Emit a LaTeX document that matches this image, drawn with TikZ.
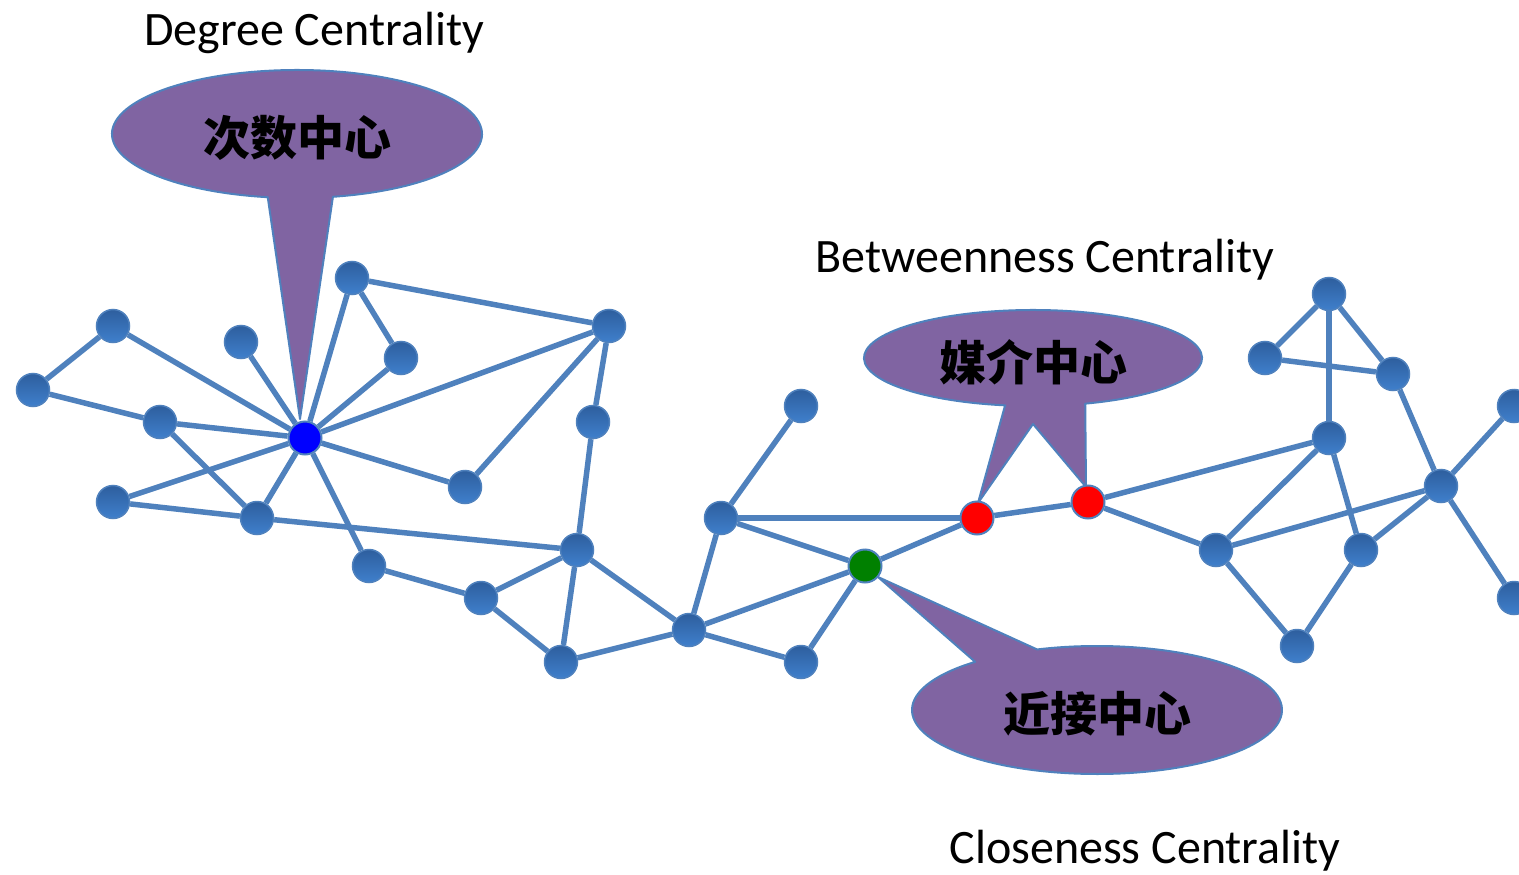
\documentclass[tikz,border=0pt]{standalone}
\usepackage{fontspec}
\setmainfont{Carlito}
\newfontfamily\cjk{Noto Sans CJK SC}
\definecolor{edgeblue}{HTML}{4F81BD}
\definecolor{balltop}{HTML}{2E5E9E}
\definecolor{ballbot}{HTML}{3F80CC}
\definecolor{calloutfill}{HTML}{8064A2}
\definecolor{hubgreen}{RGB}{0,128,0}
\pgfdeclarelayer{background}
\pgfsetlayers{background,main}
\tikzset{
  ball/.style={circle, inner sep=0pt, minimum size=33pt, draw=edgeblue,
    line width=1.5pt, top color=balltop, bottom color=ballbot},
  hub/.style={circle, inner sep=0pt, minimum size=33pt, draw=edgeblue,
    line width=2pt, fill=#1},
  link/.style={draw=edgeblue, line width=5.5pt},
  callout/.style={fill=calloutfill, draw=edgeblue, line width=2pt, line join=round},
  title/.style={anchor=base, font=\fontsize{48}{56}\selectfont},
  cjklabel/.style={font=\cjk\bfseries\fontsize{47}{54}\selectfont}
}
\begin{document}
\begin{tikzpicture}[x=1pt, y=-1pt]
\useasboundingbox (0,0) rectangle (1519,875);

% left cluster
\node[ball] (a1) at (33,390) {};
\node[ball] (a2) at (113,326) {};
\node[ball] (a3) at (160,422) {};
\node[ball] (a4) at (113,502) {};
\node[ball] (a5) at (241,342) {};
\node[ball] (a6) at (257,518) {};
\node[hub=blue] (c) at (305,438) {};
\node[ball] (a7) at (352,278) {};
\node[ball] (a8) at (401,358) {};
\node[ball] (a9) at (609,326) {};
\node[ball] (a10) at (593,422) {};
\node[ball] (a11) at (465,487) {};
\node[ball] (a12) at (369,566) {};
\node[ball] (a13) at (481,598) {};
\node[ball] (a14) at (577,550) {};
\node[ball] (a15) at (561,662) {};
% middle
\node[ball] (a16) at (689,630) {};
\node[ball] (a17) at (721,518) {};
\node[ball] (a18) at (801,406) {};
\node[ball] (a19) at (801,662) {};
\node[hub=hubgreen] (g) at (865,566) {};
\node[hub=red] (r1) at (977,518) {};
\node[hub=red] (r2) at (1088,502) {};
% right cluster
\node[ball] (b1) at (1329,294) {};
\node[ball] (b2) at (1265,358) {};
\node[ball] (b3) at (1393,374) {};
\node[ball] (b4) at (1329,438) {};
\node[ball] (b5) at (1216,550) {};
\node[ball] (b6) at (1361,550) {};
\node[ball] (b7) at (1441,486) {};
\node[ball] (b8) at (1297,646) {};
\node[ball] (b9) at (1514,406) {};
\node[ball] (b10) at (1514,598) {};

\begin{pgfonlayer}{background}
  \foreach \u/\v in {a1/a2, a1/a3, a2/c, a3/c, a3/a6, a4/c, a4/a6, a5/c, a6/c,
      a7/c, a7/a8, a7/a9, a8/c, a9/c, a9/a11, a9/a10, c/a11, c/a12, a6/a14,
      a10/a14, a12/a13, a13/a14, a13/a15, a14/a15, a14/a16, a15/a16,
      a16/a17, a16/g, a16/a19, a17/a18, a17/r1, a17/g, g/r1, g/a19, r1/r2,
      r2/b4, r2/b5, b1/b2, b1/b3, b1/b4, b2/b3, b3/b7, b4/b5, b4/b6, b5/b7,
      b5/b8, b6/b7, b6/b8, b7/b9, b7/b10}
    \draw[link] (\u) -- (\v);

  % speech bubbles
  \path[callout] ([shift={(297,134)}]281.2:185pt and 64pt)
    arc[start angle=281.2, end angle=620.9, x radius=185pt, y radius=64pt]
    -- (300,419) -- cycle;
  \path[callout] ([shift={(1033,358)}]288:169pt and 48pt)
    arc[start angle=288, end angle=620.5, x radius=169pt, y radius=48pt]
    -- (978,503) -- (1033,424) -- (1086,487) -- cycle;
  \path[callout] ([shift={(1097,710)}]131.2:185pt and 64pt)
    arc[start angle=131.2, end angle=468.9, x radius=185pt, y radius=64pt]
    -- (878,577) -- cycle;
\end{pgfonlayer}

\node[cjklabel] (l1) at (297,138) {次数中心};
\node[cjklabel] (l2) at (1033,362) {媒介中心};
\node[cjklabel] (l3) at (1097,714) {近接中心};

\node[title] (t1) at (314,46) {Degree Centrality};
\node[title] (t2) at (1045,272) {Betweenness Centrality};
\node[title] (t3) at (1145,863) {Closeness Centrality};
\end{tikzpicture}
\end{document}
